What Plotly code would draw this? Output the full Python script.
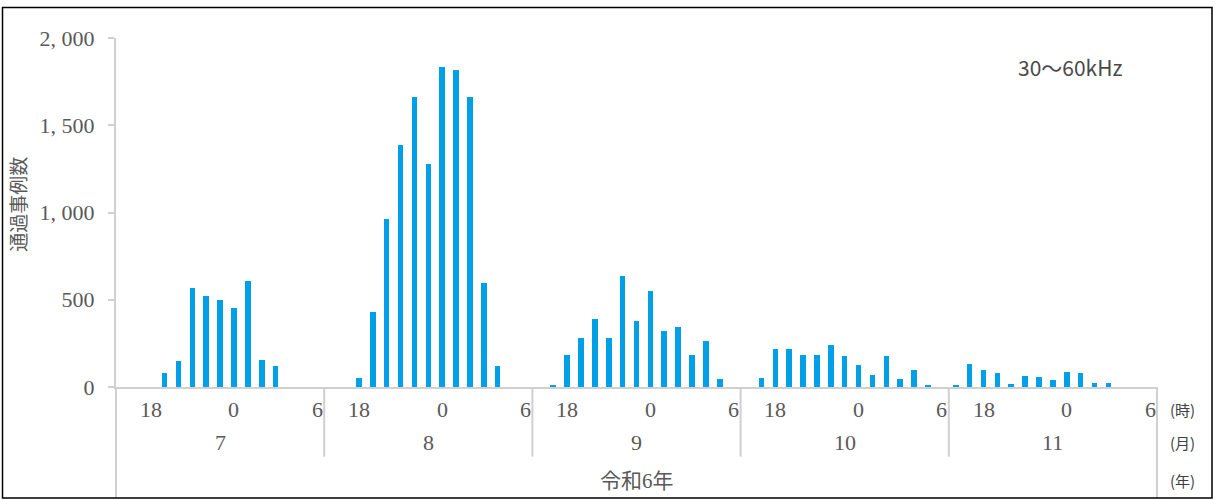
import plotly.graph_objects as go

# ---------------- data ----------------
months = [7, 8, 9, 10, 11]
hours = [16, 17, 18, 19, 20, 21, 22, 23, 0, 1, 2, 3, 4, 5, 6]
hour_labels = [18, 0, 6]
year_label = "令和6年"
y_ticks = [0, 500, 1000, 1500, 2000]
y_tick_text = ["0", "500", "1, 000", "1, 500", "2, 000"]

counts_m7 = [0, 0, 0, 78, 147, 570, 522, 497, 453, 610, 154, 122, 0, 0, 0]
counts_m8 = [0, 0, 50, 430, 962, 1386, 1661, 1280, 1836, 1817, 1661, 594, 118, 0, 0]
counts_m9 = [0, 13, 183, 282, 389, 282, 636, 381, 550, 320, 345, 183, 263, 44, 0]
counts_m10 = [0, 49, 217, 217, 183, 183, 238, 175, 126, 69, 175, 44, 99, 7, 0]
counts_m11 = [7, 131, 99, 82, 19, 63, 57, 38, 87, 82, 25, 25, 0, 0, 0]
counts = [counts_m7, counts_m8, counts_m9, counts_m10, counts_m11]

# ---------------- layout geometry (pixels) ----------------
W, H = 1215, 500
L, R = 116, 1157          # plot left / right
T, B = 38, 387.3          # plot top / bottom (y=2000 / y=0)
PW, PH = R - L, B - T

def px(xp):
    return (xp - L) / PW

def py(yp):
    return (B - yp) / PH

n_h = len(hours)
xs, ys = [], []
for mi, m in enumerate(months):
    for hi, h in enumerate(hours):
        xs.append(mi * n_h + hi)
        ys.append(counts[mi][hi])

GREY = "#d0d0d0"
TXT = "#595959"
SERIF = "Liberation Serif, Noto Sans CJK JP"

fig = go.Figure()
fig.add_trace(go.Bar(x=xs, y=ys, width=0.4, marker=dict(color="#00A0E9", line=dict(width=0)),
                     hoverinfo="y", showlegend=False))

shapes = []
annotations = []
total = len(months) * n_h
# left & right frame of category area
shapes.append(dict(type="line", xref="paper", yref="paper", x0=0, x1=0, y0=py(B), y1=py(H - 1),
                   line=dict(color=GREY, width=2)))
shapes.append(dict(type="line", xref="paper", yref="paper", x0=1, x1=1, y0=py(B), y1=py(H - 1),
                   line=dict(color=GREY, width=2)))
# month separators
for mi in range(1, len(months)):
    shapes.append(dict(type="line", xref="x", yref="paper", x0=mi * n_h - 0.5, x1=mi * n_h - 0.5,
                       y0=py(B), y1=py(457), line=dict(color=GREY, width=2)))
# outer black frame
shapes.append(dict(type="rect", xref="paper", yref="paper", x0=px(2.5), x1=px(1212), y0=py(498.5), y1=py(7.5),
                   line=dict(color="black", width=1.5)))

# hour labels
for mi, m in enumerate(months):
    for hl in hour_labels:
        hi = hours.index(hl)
        annotations.append(dict(x=mi * n_h + hi, y=py(410), xref="x", yref="paper", text=str(hl),
                                showarrow=False, font=dict(family=SERIF, size=22, color=TXT),
                                xanchor="center", yanchor="middle"))
    annotations.append(dict(x=mi * n_h + (n_h - 1) / 2, y=py(443), xref="x", yref="paper", text=str(m),
                            showarrow=False, font=dict(family=SERIF, size=22, color=TXT),
                            xanchor="center", yanchor="middle"))
annotations.append(dict(x=(total - 1) / 2, y=py(481), xref="x", yref="paper", text=year_label,
                        showarrow=False, font=dict(family=SERIF, size=21, color=TXT),
                        xanchor="center", yanchor="middle"))
for txt, yp in [("(時)", 410), ("(月)", 443), ("(年)", 481)]:
    annotations.append(dict(x=px(1182), y=py(yp), xref="paper", yref="paper", text=txt, showarrow=False,
                            font=dict(family="Noto Sans CJK JP", size=15, color="#404040"),
                            xanchor="center", yanchor="middle"))
# y title
annotations.append(dict(x=px(20), y=py(205), xref="paper", yref="paper", text="通過事例数", textangle=-90,
                        showarrow=False, font=dict(family=SERIF, size=19, color=TXT),
                        xanchor="center", yanchor="middle"))
# band label
annotations.append(dict(x=px(1070), y=py(67), xref="paper", yref="paper", text="30～60kHz", showarrow=False,
                        font=dict(family="Noto Sans CJK JP", size=21, color="#4a4a4a"),
                        xanchor="center", yanchor="middle"))

fig.update_layout(
    width=W, height=H,
    margin=dict(l=L, r=W - R, t=T, b=H - B, pad=0),
    paper_bgcolor="white", plot_bgcolor="white",
    bargap=0,
    xaxis=dict(range=[-0.5, total - 0.5], showticklabels=False, ticks="", showgrid=False, zeroline=False,
               showline=True, linecolor=GREY, linewidth=2, fixedrange=True),
    yaxis=dict(range=[0, 2000], tickvals=y_ticks, ticktext=y_tick_text, showgrid=False, zeroline=False,
               showline=True, linecolor=GREY, linewidth=2, ticks="outside", ticklen=6, tickcolor=GREY,
               tickwidth=2, ticklabelstandoff=9,
               tickfont=dict(family=SERIF, size=22, color=TXT), fixedrange=True),
    shapes=shapes,
    annotations=annotations,
)

fig.write_html("out.html", config={"displayModeBar": False},
               post_script="document.body.style.margin='0';document.body.style.overflow='hidden';")
